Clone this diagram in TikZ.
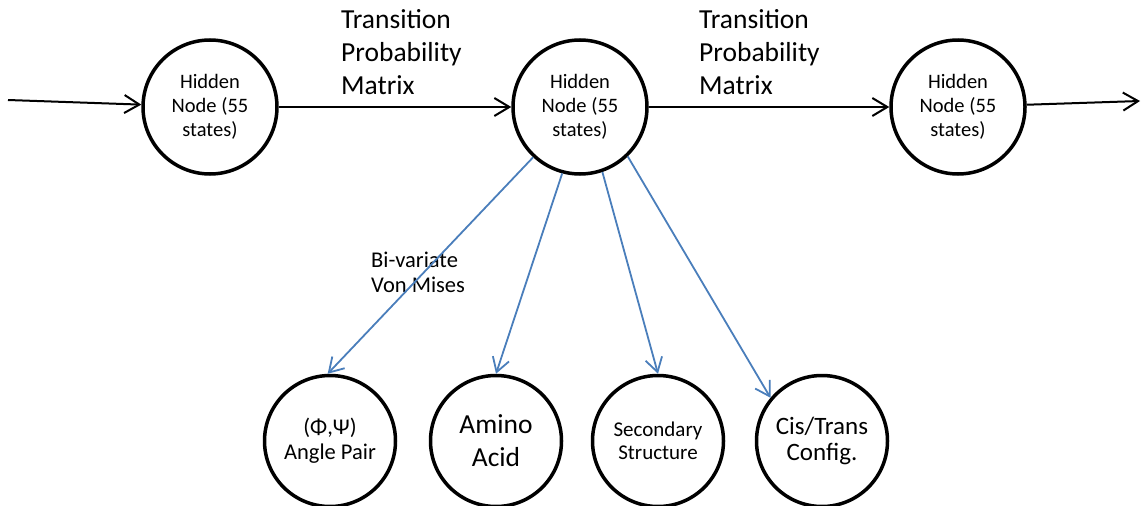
\documentclass[tikz,border=0pt]{standalone}
\usepackage{fontspec}
\setmainfont{Carlito}
\usetikzlibrary{arrows.meta}
\definecolor{pblue}{HTML}{4A7EBB}
\begin{document}
\begin{tikzpicture}[x=1pt,y=-1pt,
  hid/.style={circle,draw,line width=3.5pt,minimum size=134pt,inner sep=0pt,align=center,font=\fontsize{20.5}{24}\selectfont},
  obs/.style={circle,draw,line width=3.5pt,minimum size=131pt,inner sep=0pt,align=center},
  karrow/.style={line width=2pt,-{Straight Barb[length=15pt,width=18pt,line width=2pt]}},
  barrow/.style={pblue,line width=1.8pt,-{Straight Barb[length=14pt,width=17pt,line width=1.8pt]}},
  lbl/.style={anchor=west,align=left,inner sep=0pt}]
\useasboundingbox (0,0) rectangle (1141,506);
% hidden nodes
\node[hid] (h1) at (210,107) {Hidden\\Node (55\\states)};
\node[hid] (h2) at (580,107) {Hidden\\Node (55\\states)};
\node[hid] (h3) at (958,107) {Hidden\\Node (55\\states)};
% observed nodes
\node[obs,font=\fontsize{22.5}{25}\selectfont] (ang) at (330,441) {(Φ,Ψ)\\Angle Pair};
\node[obs,font=\fontsize{27.5}{33}\selectfont] (ami) at (496,441) {Amino\\Acid};
\node[obs,font=\fontsize{21}{22.5}\selectfont] (sec) at (658,441) {Secondary\\Structure};
\node[obs,font=\fontsize{25}{25.5}\selectfont] (cis) at (822,441) {Cis/Trans\\Config.};
% free ends
\coordinate (in) at (8,100);
\coordinate (out) at (1140,101);
% labels
\node[lbl,font=\fontsize{27.5}{33}\selectfont] (t1) at (341,52) {Transition\\Probability\\Matrix};
\node[lbl,font=\fontsize{27.5}{33}\selectfont] (t2) at (699,52) {Transition\\Probability\\Matrix};
\node[lbl,font=\fontsize{22.5}{25}\selectfont] (bv) at (371,272) {Bi-variate\\Von Mises};
% black arrows
\draw[karrow] (in) -- (h1);
\draw[karrow] (h1) -- (h2);
\draw[karrow] (h2) -- (h3);
\draw[karrow] (h3) -- (out);
% blue arrows
\draw[barrow] (h2.227) -- (ang.92);
\draw[barrow] (h2.255) -- (ami.90);
\draw[barrow] (h2.289) -- (sec.90);
\draw[barrow] (h2.314) -- (cis.140);
\end{tikzpicture}
\end{document}
